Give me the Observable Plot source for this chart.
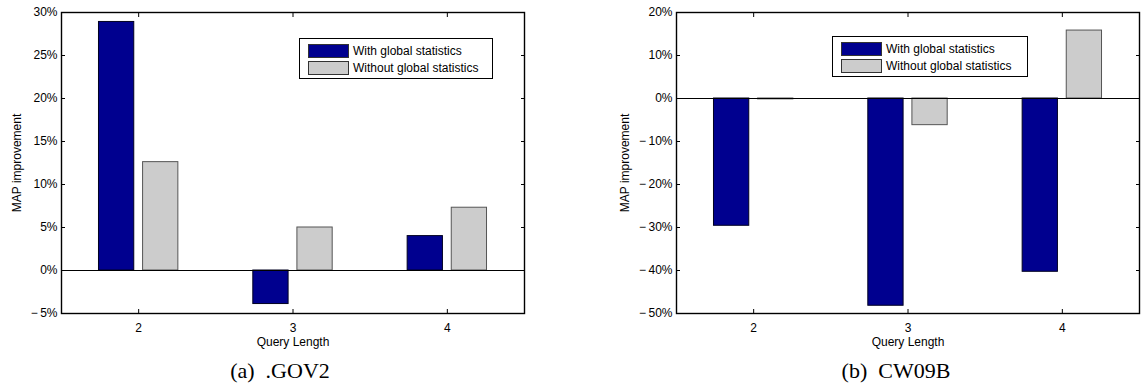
<!DOCTYPE html>
<html><head><meta charset="utf-8">
<script src="https://cdn.jsdelivr.net/npm/d3@7"></script>
<script src="https://cdn.jsdelivr.net/npm/@observablehq/plot@0.6"></script>
<style>
body{margin:0;background:#fff;}
#wrap{position:relative;width:1141px;height:385px;font-family:"Liberation Sans",Arial,sans-serif;overflow:hidden;}
.panel{position:absolute;top:0;}
.legend{position:absolute;box-sizing:border-box;border:1px solid #000;background:#fff;font-size:12px;color:#000;}
.legend .sw{position:absolute;box-sizing:border-box;width:41px;height:14px;border:1px solid #333;}
.legend .lt{position:absolute;white-space:nowrap;line-height:14px;}
.cap{position:absolute;font-family:"Liberation Serif","Times New Roman",serif;font-size:22px;transform:translateX(-50%);white-space:pre;color:#000;line-height:1;}
</style></head>
<body><div id="wrap"></div>
<script>
const queryLengths = [2, 3, 4];
const seriesNames = ["With global statistics", "Without global statistics"];
const gov2With = [28.9, -3.9, 4.0];
const gov2Without = [12.6, 5.0, 7.3];
const cw09bWith = [-29.6, -48.2, -40.3];
const cw09bWithout = [-0.2, -6.2, 15.8];
const gov2Ticks = [-5, 0, 5, 10, 15, 20, 25, 30];
const cw09bTicks = [-50, -40, -30, -20, -10, 0, 10, 20];
const captions = ["(a)  .GOV2", "(b)  CW09B"];
const colors = ["#00008f", "#cccccc"];
const strokes = ["#000020", "#555555"];

const wrap = document.getElementById("wrap");
const fmt = d => (d < 0 ? "\u2212\u2009" : "") + Math.abs(d) + "%";

function chart({w, ml, mr, yDomain, yTicks, withV, withoutV, yLabelOffset}) {
  const rows = [];
  queryLengths.forEach((q, k) => {
    rows.push({q, s: 0, v: withV[k]});
    rows.push({q, s: 1, v: withoutV[k]});
  });
  const gw = 2 / 3.5, bw = gw / 2 * 0.8, off = [-gw / 4, gw / 4];
  return Plot.plot({
    width: w, height: 353, marginLeft: ml, marginRight: mr, marginTop: 12, marginBottom: 40,
    style: {fontFamily: "Liberation Sans, Arial, sans-serif", fontSize: "12px", color: "#000", background: "#fff", overflow: "visible"},
    x: {domain: [1.5, 4.5]},
    y: {domain: yDomain},
    color: {type: "identity"},
    marks: [
      Plot.rectY(rows, {x1: d => d.q + off[d.s] - bw / 2, x2: d => d.q + off[d.s] + bw / 2, y1: 0, y2: "v",
        fill: d => colors[d.s], stroke: d => strokes[d.s], strokeWidth: 1}),
      Plot.ruleY([0], {stroke: "#000", strokeWidth: 1}),
      Plot.frame({stroke: "#000", strokeWidth: 1.4}),
      Plot.axisX(queryLengths, {anchor: "bottom", tickSize: 0, tickPadding: 10, tickFormat: d => String(d),
        label: "Query Length", labelAnchor: "center", labelArrow: "none", labelOffset: 32}),
      Plot.axisX(queryLengths, {anchor: "bottom", tickSize: -4, text: null, label: null}),
      Plot.axisX(queryLengths, {anchor: "top", tickSize: -4, text: null, label: null}),
      Plot.axisY(yTicks, {anchor: "left", tickSize: 0, tickPadding: 4, tickFormat: fmt,
        label: "MAP improvement", labelAnchor: "center", labelArrow: "none", labelOffset: yLabelOffset}),
      Plot.axisY(yTicks, {anchor: "left", tickSize: -4, text: null, label: null}),
      Plot.axisY(yTicks, {anchor: "right", tickSize: -4, text: null, label: null})
    ]
  });
}

function legend(left, top, width, height, swTop) {
  const lg = document.createElement("div");
  lg.className = "legend";
  Object.assign(lg.style, {left: left + "px", top: top + "px", width: width + "px", height: height + "px"});
  seriesNames.forEach((name, i) => {
    const sw = document.createElement("div");
    sw.className = "sw";
    Object.assign(sw.style, {left: "8px", top: swTop[i] + "px", background: colors[i]});
    const t = document.createElement("div");
    t.className = "lt";
    Object.assign(t.style, {left: "53px", top: swTop[i] + "px"});
    t.textContent = name;
    lg.appendChild(sw); lg.appendChild(t);
  });
  wrap.appendChild(lg);
}

const p1 = chart({w: 570, ml: 61, mr: 46, yDomain: [-5, 30], yTicks: gov2Ticks, withV: gov2With, withoutV: gov2Without, yLabelOffset: 49});
p1.classList.add("panel"); p1.style.left = "0px";
wrap.appendChild(p1);
const p2 = chart({w: 571, ml: 106, mr: 2, yDomain: [-50, 20], yTicks: cw09bTicks, withV: cw09bWith, withoutV: cw09bWithout, yLabelOffset: 56});
p2.classList.add("panel"); p2.style.left = "570px";
wrap.appendChild(p2);

legend(299, 38, 194, 41, [5, 22]);
legend(832, 36, 196, 41, [4.5, 22]);

[[280, captions[0]], [896, captions[1]]].forEach(([cx, txt]) => {
  const c = document.createElement("div");
  c.className = "cap";
  c.style.left = cx + "px";
  c.style.top = "360px";
  c.textContent = txt;
  wrap.appendChild(c);
});
</script>
</body></html>
